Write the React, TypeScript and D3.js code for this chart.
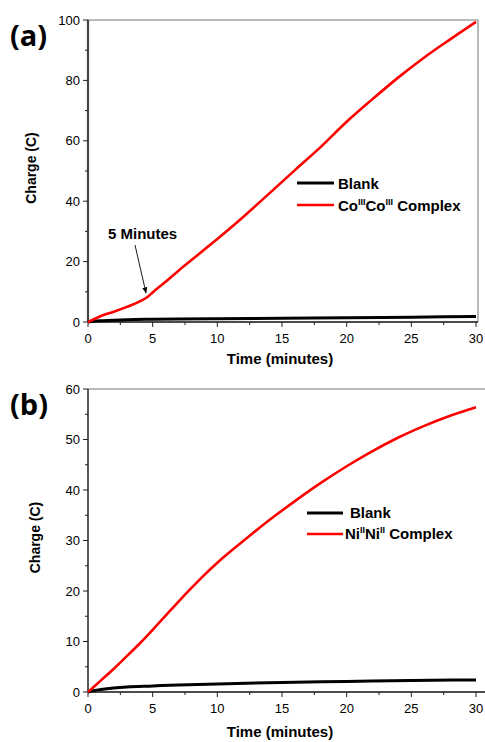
import React from 'react'
import * as d3 from 'd3'

// panel (a) – charge vs time, Co(III)Co(III) complex
const timeA = [0, 0.5, 1, 2, 3, 4, 4.6, 5, 6, 7, 8, 9, 10, 12, 14, 16, 18, 20, 22, 24, 26, 28, 30]
const coComplex = [0, 1, 2, 3.4, 5, 6.8, 8.3, 9.8, 13.3, 17, 20.5, 24, 27.5, 34.8, 42.5, 50.3, 58, 66.3, 73.8, 81, 87.6, 93.6, 99.4]
const blankTimeA = [0, 0.5, 1, 2, 3, 5, 7, 10, 15, 20, 25, 30]
const blankA = [0, 0.25, 0.4, 0.6, 0.75, 0.9, 1.0, 1.1, 1.25, 1.4, 1.6, 1.8]

// panel (b) – charge vs time, Ni(II)Ni(II) complex
const timeB = [0, 1, 2, 3, 4, 5, 6, 7, 8, 9, 10, 12, 14, 16, 18, 20, 22, 24, 26, 28, 30]
const niComplex = [0, 2.3, 4.6, 7.1, 9.6, 12.3, 15.1, 17.9, 20.6, 23.2, 25.6, 29.9, 34, 37.8, 41.4, 44.7, 47.7, 50.4, 52.7, 54.7, 56.4]
const blankTimeB = [0, 0.5, 1, 2, 3, 5, 7, 10, 15, 20, 25, 30]
const blankB = [0, 0.3, 0.5, 0.8, 1.0, 1.2, 1.4, 1.6, 1.9, 2.1, 2.3, 2.4]

const xTicks = [0, 5, 10, 15, 20, 25, 30]
const yTicksA = [0, 20, 40, 60, 80, 100]
const yTicksB = [0, 10, 20, 30, 40, 50, 60]

const sans = 'Liberation Sans, Arial, sans-serif'

const zip = (xs: number[], ys: number[]) => xs.map((x, i) => [x, ys[i]] as [number, number])

function Panel(props: any) {
  const { top, bottom, yMax, yTicks, yMinorStep, red, blank, label, axisColor, axisWidth, frameRight, timeY, children } = props
  const left = 88
  const right = 476
  const x = d3.scaleLinear().domain([0, 30]).range([left, right])
  const y = d3.scaleLinear().domain([0, yMax]).range([bottom, top])
  const line = d3.line<[number, number]>().x(d => x(d[0])).y(d => y(d[1])).curve(d3.curveMonotoneX)
  const xMinor = d3.range(2.5, 30, 5)
  const yMinor = d3.range(yMinorStep, yMax, yMinorStep * 2)
  return (
    <g>
      <text x={10} y={top + 26} fontFamily="Open Sans, sans-serif" fontWeight={700} fontSize={29}>{label}</text>
      {/* frame */}
      <line x1={left} x2={frameRight} y1={top} y2={top} stroke="#777" strokeWidth={1} />
      {frameRight < 480 && <line x1={frameRight} x2={frameRight} y1={top} y2={bottom} stroke="#777" strokeWidth={1} />}
      <line x1={left} x2={frameRight} y1={bottom} y2={bottom} stroke="#111" strokeWidth={1.3} />
      <line x1={left} x2={left} y1={top} y2={bottom} stroke={axisColor} strokeWidth={axisWidth} />
      {/* y ticks */}
      {yTicks.map((t: number) => (
        <g key={'y' + t}>
          <line x1={left - 5} x2={left} y1={y(t)} y2={y(t)} stroke="#222" />
          <text x={left - 8} y={y(t)} dy="0.35em" textAnchor="end" fontFamily={sans} fontSize={13}>{t}</text>
        </g>
      ))}
      {yMinor.map((t: number) => (
        <line key={'ym' + t} x1={left - 3} x2={left} y1={y(t)} y2={y(t)} stroke="#222" />
      ))}
      {/* x ticks */}
      {xTicks.map(t => (
        <g key={'x' + t}>
          <line x1={x(t)} x2={x(t)} y1={bottom} y2={bottom + 5} stroke="#222" />
          <text x={x(t)} y={bottom + 21} textAnchor="middle" fontFamily={sans} fontSize={13}>{t}</text>
        </g>
      ))}
      {xMinor.map(t => (
        <line key={'xm' + t} x1={x(t)} x2={x(t)} y1={bottom} y2={bottom + 3} stroke="#222" />
      ))}
      <text x={(left + right) / 2 - 2} y={timeY} textAnchor="middle" fontFamily={sans} fontWeight={700} fontSize={15}>Time (minutes)</text>
      <text transform={`translate(${props.yLabelX},${(top + bottom) / 2 - 3}) rotate(-90)`} textAnchor="middle" fontFamily={sans} fontWeight={700} fontSize={14}>Charge (C)</text>
      {/* data */}
      <path d={line(blank) || ''} fill="none" stroke="#000" strokeWidth={3} />
      <path d={line(red) || ''} fill="none" stroke="#ff0000" strokeWidth={2.6} />
      {children}
    </g>
  )
}

export default function App() {
  return (
    <svg width={485} height={742} style={{ position: 'absolute', left: 0, top: 0, background: '#fff' }}>
      <defs>
        <marker id="arr" viewBox="0 0 10 10" refX={9} refY={5} markerWidth={7} markerHeight={7} orient="auto">
          <path d="M0,1 L10,5 L0,9 z" fill="#000" />
        </marker>
      </defs>
      <Panel top={20} bottom={322} yMax={100} yTicks={yTicksA} yMinorStep={10}
        red={zip(timeA, coComplex)} blank={zip(blankTimeA, blankA)} timeY={364}
        label="(a)" axisColor="#444" axisWidth={2.2} frameRight={478} yLabelX={36}>
        <text x={108} y={239} fontFamily={sans} fontWeight={700} fontSize={15}>5 Minutes</text>
        <line x1={135} y1={245} x2={146} y2={293} stroke="#000" strokeWidth={0.9} markerEnd="url(#arr)" />
        <line x1={297} x2={334} y1={183} y2={183} stroke="#000" strokeWidth={3} />
        <text x={338} y={189} fontFamily={sans} fontWeight={700} fontSize={15}>Blank</text>
        <line x1={297} x2={334} y1={205} y2={205} stroke="#ff0000" strokeWidth={2.6} />
        <text x={338} y={211} fontFamily={sans} fontWeight={700} fontSize={15}>
          Co<tspan fontSize={9} dy={-6}>III</tspan><tspan dy={6}>Co</tspan><tspan fontSize={9} dy={-6}>III</tspan><tspan dy={6}> Complex</tspan>
        </text>
      </Panel>
      <Panel top={389} bottom={692} yMax={60} yTicks={yTicksB} yMinorStep={5}
        red={zip(timeB, niComplex)} blank={zip(blankTimeB, blankB)} timeY={737}
        label="(b)" axisColor="#000" axisWidth={1.3} frameRight={485} yLabelX={40}>
        <line x1={307} x2={343} y1={513} y2={513} stroke="#000" strokeWidth={3} />
        <text x={350} y={518} fontFamily={sans} fontWeight={700} fontSize={15}>Blank</text>
        <line x1={307} x2={343} y1={534} y2={534} stroke="#ff0000" strokeWidth={2.6} />
        <text x={345} y={539} fontFamily={sans} fontWeight={700} fontSize={15}>
          Ni<tspan fontSize={9} dy={-6}>II</tspan><tspan dy={6}>Ni</tspan><tspan fontSize={9} dy={-6}>II</tspan><tspan dy={6}> Complex</tspan>
        </text>
      </Panel>
    </svg>
  )
}
